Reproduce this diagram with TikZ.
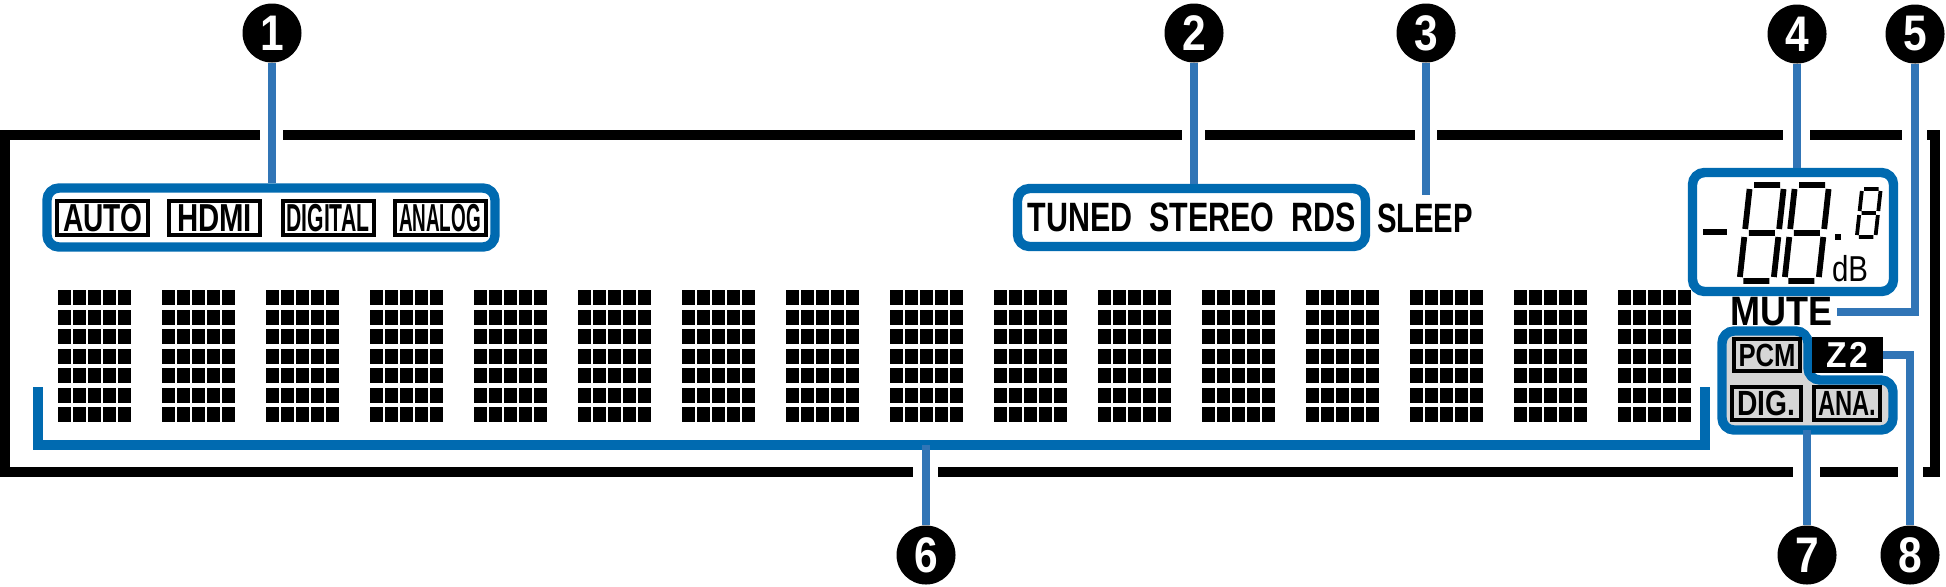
\documentclass[tikz,border=0pt]{standalone}
\usepackage{fontspec}
\setmainfont{Liberation Sans}
\usepackage{graphicx}

\definecolor{boxblue}{RGB}{0,106,176}
\definecolor{leadblue}{RGB}{49,117,182}
\definecolor{lcdgray}{RGB}{214,214,214}

\newcommand{\fitw}[2]{\resizebox{#1}{\height}{#2}}
% slanted seven segment digit: x, y, xscale, yscale, line width
\newcommand{\lcddigit}[5]{%
  \begin{scope}[shift={(#1,#2)},xslant=0.11,xscale=#3,yscale=#4,line width=#5]
    \draw (4,0)--(30,0) (34,4)--(34,44) (34,52)--(34,92) (4,96)--(30,96)
          (0,52)--(0,92) (0,4)--(0,44) (4,48)--(30,48);
  \end{scope}}

\tikzset{
  frame/.style={line width=5pt},
  leader/.style={leadblue,line width=4.3pt},
  group/.style={draw=boxblue,line width=4.7pt,rounded corners=6pt,inner sep=0pt},
  callout/.style={circle,fill=black,text=white,minimum size=29.5pt,inner sep=0pt,
    font=\fontsize{25}{25}\selectfont\bfseries},
  tag/.style={draw,line width=2pt,inner sep=0pt,font=\fontsize{19.5}{19.5}\selectfont\bfseries},
  smalltag/.style={tag,fill=lcdgray,font=\fontsize{17.5}{17.5}\selectfont\bfseries},
  lcdtext/.style={inner sep=0pt,font=\fontsize{20.5}{20.5}\selectfont\bfseries},
}

\begin{document}
\begin{tikzpicture}[x=0.5pt,y=-0.5pt]
  \useasboundingbox (0,0) rectangle (1946,586);

  % display frame
  \draw[frame] (260,135) -- (4.5,135) -- (4.5,472) -- (913,472);
  \draw[frame] (283,135) -- (1182,135);
  \draw[frame] (1205,135) -- (1415,135);
  \draw[frame] (1437,135) -- (1783,135);
  \draw[frame] (1810,135) -- (1902,135);
  \draw[frame] (1927,135) -- (1935,135) -- (1935,472) -- (1923,472);
  \draw[frame] (938,472) -- (1793,472);
  \draw[frame] (1820,472) -- (1898,472);

  % input indicators
  \node[group,minimum width=224pt,minimum height=29.5pt] (grp1) at (271,217.5) {};
  \node[tag,minimum width=45.5pt,minimum height=17pt] (auto) at (102.5,218) {\fitw{39.5pt}{AUTO}};
  \node[tag,minimum width=45.5pt,minimum height=17pt] (hdmi) at (214.5,218) {\fitw{37.5pt}{HDMI}};
  \node[tag,minimum width=45.5pt,minimum height=17pt] (digital) at (328,218) {\fitw{41.5pt}{DIGITAL}};
  \node[tag,minimum width=45.5pt,minimum height=17pt] (analog) at (440,218) {\fitw{41pt}{ANALOG}};

  % tuner and sleep
  \node[group,lcdtext,minimum width=174pt,minimum height=29pt] (grp2) at (1191.5,217.5)
    {\fitw{164pt}{TUNED\ \ STEREO\ \ RDS}};
  \node[lcdtext] (sleep) at (1425,218.5) {\fitw{48pt}{SLEEP}};
  \coordinate (sleeptop) at (1426,195);

  % volume
  \node[group,minimum width=100.5pt,minimum height=59.5pt] (grp4) at (1793,232) {};
  \draw[line width=3pt] (1703,232) -- (1727,232);
  \lcddigit{1750}{185}{1}{1}{2.9pt}
  \lcddigit{1795}{185}{1}{1}{2.9pt}
  \lcddigit{1862}{189}{0.55}{0.5}{1.9pt}
  \fill (1835,234) rectangle ++(6,6);
  \node[inner sep=0pt,font=\fontsize{18}{18}\selectfont] (unit) at (1850,269) {\fitw{18pt}{dB}};

  \node[lcdtext] (mute) at (1781,311.5) {\fitw{51pt}{MUTE}};
  \coordinate (mutept) at (1837,312);

  % dot matrix
  \foreach \c in {0,...,15}
    \foreach \i in {0,...,4}
      \foreach \j in {0,...,6}
        \fill ({58+104*\c+15*\i},{290+19.5*\j}) rectangle ++(12.5,15);
  \draw[boxblue,line width=4.7pt] (38,387) -- (38,445) -- (1705,445) -- (1705,387);
  \coordinate (g6m) at (926,445);

  % signal indicators
  \draw[boxblue,line width=4.7pt,rounded corners=6pt,fill=lcdgray]
    (1722,331) -- (1808,331) -- (1808,380) -- (1893,380) -- (1893,430) -- (1722,430) -- cycle;
  \coordinate (g7s) at (1807,430);
  \node[smalltag,minimum width=33pt,minimum height=16pt,font=\fontsize{16}{16}\selectfont\bfseries] (pcm) at (1767,355) {\fitw{28.5pt}{PCM}};
  \node[fill=black,text=white,inner sep=0pt,minimum width=35.5pt,minimum height=18pt,
    font=\fontsize{18}{18}\selectfont\bfseries] (z2) at (1847.5,355) {\fitw{21pt}{Z\hspace{1.5pt}2}};
  \node[smalltag,minimum width=34.5pt,minimum height=16.5pt] (dig) at (1766.5,403.5) {\fitw{29pt}{DIG.}};
  \node[smalltag,minimum width=33pt,minimum height=16.5pt] (ana) at (1847,403.5) {\fitw{29pt}{ANA.}};

  % callouts
  \foreach \n/\x/\y in {1/272/33,2/1194/33,3/1426/33,4/1797/34,5/1915/34,6/926/555,7/1807/555,8/1910/555}
    \node[callout] (b\n) at (\x,\y) {\scalebox{.85}[1]{\n}};

  \draw[leader] (b1) -- (b1 |- grp1.north);
  \draw[leader] (b2) -- (b2 |- grp2.north);
  \draw[leader] (b3) -- (sleeptop);
  \draw[leader] (b4) -- (b4 |- grp4.north);
  \draw[leader] (b5) |- (mutept);
  \draw[leader] (g6m) -- (b6);
  \draw[leader] (g7s) -- (b7);
  \draw[leader] (z2) -| (b8);
\end{tikzpicture}
\end{document}
